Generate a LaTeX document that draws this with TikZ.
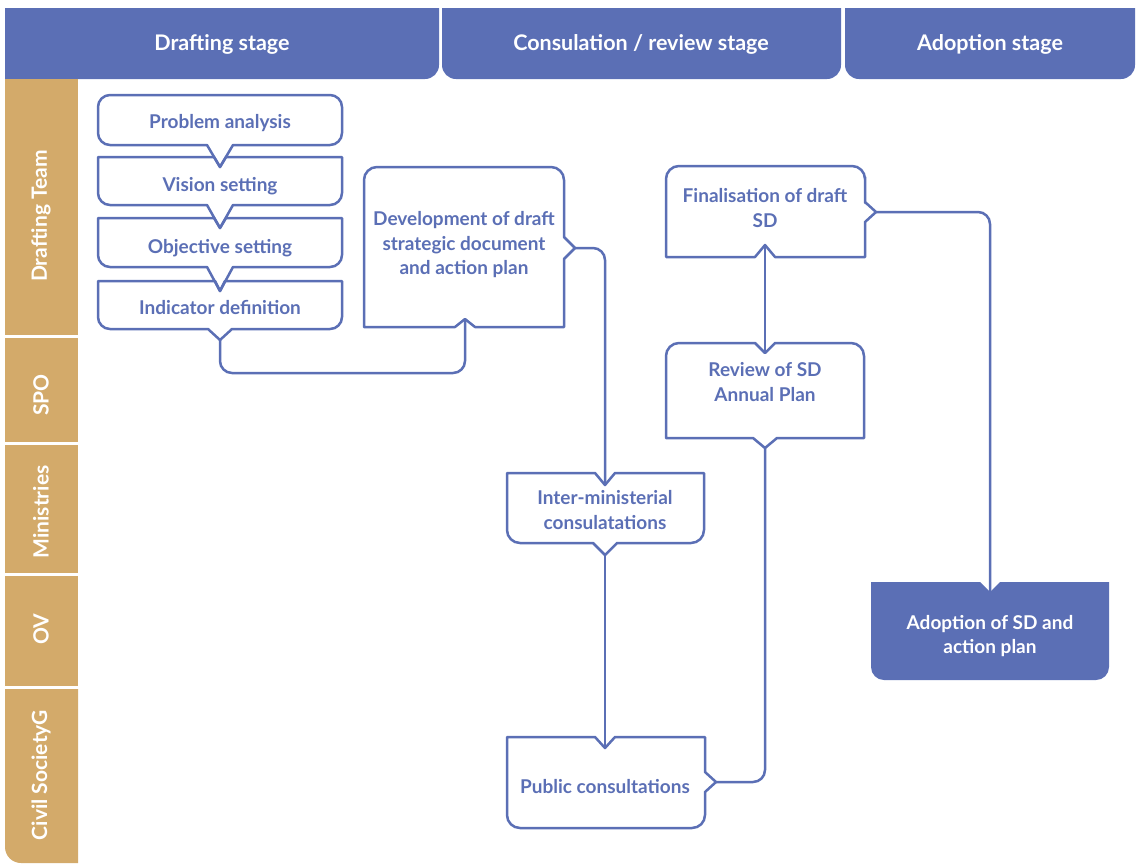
\documentclass[tikz,border=0pt]{standalone}
\usepackage{fontspec}
\setmainfont{Lato}
\definecolor{flowblue}{RGB}{91,111,181}
\definecolor{lanetan}{RGB}{211,170,106}
\tikzset{
  boxline/.style={draw=flowblue, line width=2.5pt, line join=round},
  link/.style={draw=flowblue, line width=2.5pt, rounded corners=12pt},
  boxtext/.style={text=flowblue, font=\fontsize{19}{24.5}\selectfont\bfseries, align=center, inner sep=0pt},
  adopttext/.style={boxtext, text=white},
  headtext/.style={text=white, font=\fontsize{21.5}{26}\selectfont\bfseries, inner sep=0pt},
  lanetext/.style={text=white, font=\fontsize{21}{26}\selectfont\bfseries, rotate=90, inner sep=0pt},
}
\begin{document}
\begin{tikzpicture}[x=1pt,y=-1pt]
\useasboundingbox (0,0) rectangle (1137,863);

% stage headers
\fill[flowblue] (5,8) -- (439,8) -- (439,40) [rounded corners=14] -- (439,79) -- (200,79) [sharp corners] -- (5,79) -- cycle;
\fill[flowblue] (442,8) -- (841,8) -- (841,40) [rounded corners=14] -- (841,79) -- (442,79) -- (442,40) [sharp corners] -- cycle;
\fill[flowblue] (845,8) -- (1135,8) -- (1135,40) [rounded corners=14] -- (1135,79) -- (845,79) -- (845,40) [sharp corners] -- cycle;
\node[headtext] (hDraft) at (222,44) {Drafting stage};
\node[headtext] (hCons) at (641,44) {Consulation / review stage};
\node[headtext] (hAdopt) at (990,44) {Adoption stage};

% swimlane labels
\fill[lanetan] (5,79) rectangle (78,335);
\fill[lanetan] (5,338) rectangle (78,442);
\fill[lanetan] (5,445) rectangle (78,573);
\fill[lanetan] (5,576) rectangle (78,686);
\fill[lanetan] (5,689) -- (78,689) -- (78,863) -- (40,863) [rounded corners=16] -- (5,863) -- (5,800) [sharp corners] -- cycle;
\node[lanetext] (lDraft) at (41,216) {Drafting Team};
\node[lanetext] (lSPO) at (41,395) {SPO};
\node[lanetext] (lMin) at (41,512) {Ministries};
\node[lanetext] (lOV) at (41,629) {OV};
\node[lanetext] (lCivil) at (41,775) {Civil SocietyG};

% drafting steps
\draw[boxline] (150,145) [rounded corners=12] -- (98,145) -- (98,95) -- (342,95) -- (342,145) -- (300,145) [sharp corners] -- (233,145) -- (220,167) -- (207,145) -- cycle;
\draw[boxline] (98,157) -- (214,157) -- (220,167) -- (226,157) -- (342,157) -- (342,180) [rounded corners=12] -- (342,205) -- (300,205) [sharp corners] -- (233,205) -- (220,228) -- (207,205) -- (150,205) [rounded corners=12] -- (98,205) -- (98,180) [sharp corners] -- cycle;
\draw[boxline] (98,218) -- (214,218) -- (220,228) -- (226,218) -- (342,218) -- (342,240) [rounded corners=12] -- (342,267) -- (300,267) [sharp corners] -- (233,267) -- (220,291) -- (207,267) -- (150,267) [rounded corners=12] -- (98,267) -- (98,240) [sharp corners] -- cycle;
\draw[boxline] (98,281) -- (215,281) -- (220,291) -- (225,281) -- (342,281) -- (342,305) [rounded corners=12] -- (342,329) -- (300,329) [sharp corners] -- (232,329) -- (220,340) -- (208,329) -- (150,329) [rounded corners=12] -- (98,329) -- (98,305) [sharp corners] -- cycle;
\node[boxtext, anchor=base] (pa) at (220,128) {Problem analysis};
\node[boxtext, anchor=base] (vs) at (220,191) {Vision setting};
\node[boxtext, anchor=base] (os) at (220,253) {Objective setting};
\node[boxtext, anchor=base] (id) at (220,314) {Indicator definition};

% draft document
\draw[boxline] (420,327) -- (364,327) -- (364,250) [rounded corners=13] -- (364,167) -- (564,167) -- (564,200) [sharp corners] -- (564,237) -- (575,248) -- (564,259) -- (564,327) -- (475,327) -- (465,319) -- (455,327) -- cycle;
\node[boxtext] (dev) at (464,245) {Development of draft\\strategic document\\and action plan};

% inter-ministerial consultations
\draw[boxline] (507,473) -- (595,473) -- (605,485) -- (615,473) -- (704,473) -- (704,510) [rounded corners=13] -- (704,543) -- (660,543) [sharp corners] -- (617,543) -- (605,555) -- (593,543) -- (550,543) [rounded corners=13] -- (507,543) -- (507,510) [sharp corners] -- cycle;
\node[boxtext] (inter) at (605,510) {Inter-ministerial\\consulatations};

% public consultations
\draw[boxline] (507,737) -- (595,737) -- (605,748) -- (615,737) -- (705,737) -- (705,772) -- (716,782) -- (705,792) -- (705,800) [rounded corners=13] -- (705,828) -- (507,828) -- (507,800) [sharp corners] -- cycle;
\node[boxtext, anchor=base] (pub) at (605,793) {Public consultations};

% review of annual plan
\draw[boxline] (666,400) [rounded corners=13] -- (666,343) -- (720,343) [sharp corners] -- (755,343) -- (765,353) -- (775,343) -- (820,343) [rounded corners=13] -- (864,343) -- (864,400) [sharp corners] -- (864,438) -- (777,438) -- (765,448) -- (753,438) -- (666,438) -- cycle;
\node[boxtext] (rev) at (765,382) {Review of SD\\Annual Plan};

% finalisation
\draw[boxline] (666,210) [rounded corners=13] -- (666,166) -- (865,166) -- (865,190) [sharp corners] -- (865,202) -- (876,212) -- (865,222) -- (865,257) -- (775,257) -- (765,245) -- (755,257) -- (666,257) -- cycle;
\node[boxtext] (fin) at (765,208) {Finalisation of draft\\SD};

% adoption
\fill[flowblue] (871,582) -- (980,582) -- (990,592) -- (1000,582) -- (1109,582) -- (1109,630) [rounded corners=13] -- (1109,680) -- (871,680) -- (871,630) [sharp corners] -- cycle;
\node[adopttext] (ado) at (990,636) {Adoption of SD and\\action plan};

% connector ends
\coordinate (idOut) at (220,340);
\coordinate (devIn) at (465,319);
\coordinate (devOut) at (575,248);
\coordinate (interIn) at (605,485);
\coordinate (interOut) at (605,555);
\coordinate (pubIn) at (605,748);
\coordinate (pubOut) at (716,782);
\coordinate (revIn) at (765,353);
\coordinate (revOut) at (765,448);
\coordinate (finIn) at (765,245);
\coordinate (finOut) at (876,212);
\coordinate (adoIn) at (990,592);

% connectors
\draw[link] (idOut) -- (idOut |- 0,373) -| (devIn);
\draw[link] (devOut) -| (interIn);
\draw[link] (interOut) -- (pubIn);
\draw[link] (pubOut) -| (revOut);
\draw[link] (finIn) -- (revIn);
\draw[link] (finOut) -| (adoIn);
\end{tikzpicture}
\end{document}
